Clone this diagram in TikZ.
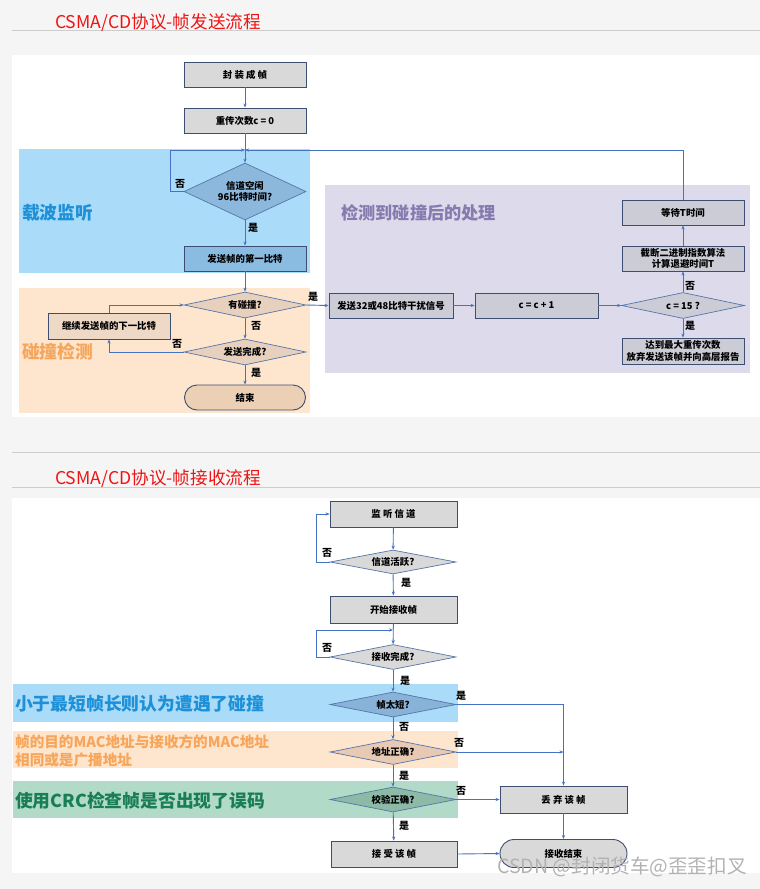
\documentclass[tikz,border=0pt]{standalone}
\usepackage{fontspec}
\setmainfont{Noto Sans CJK SC}
\usepackage{xcolor}
\usetikzlibrary{shapes.geometric, arrows.meta}

\definecolor{pagebg}{RGB}{245,245,245}
\definecolor{sepgray}{RGB}{205,205,205}
\definecolor{flowblue}{RGB}{68,114,196}
\definecolor{boxline}{RGB}{62,78,112}
\definecolor{boxgray}{RGB}{217,217,217}
\definecolor{diaedge}{RGB}{84,118,168}
\definecolor{bandblue}{RGB}{170,220,250}
\definecolor{firstblue}{RGB}{138,188,226}
\definecolor{idleblue}{RGB}{140,184,222}
\definecolor{bandorange}{RGB}{253,229,206}
\definecolor{collfill}{RGB}{231,209,190}
\definecolor{nextfill}{RGB}{238,216,198}
\definecolor{endfill}{RGB}{236,208,182}
\definecolor{bandpurple}{RGB}{221,219,235}
\definecolor{purplebox}{RGB}{204,204,214}
\definecolor{bandgreen}{RGB}{178,218,200}
\definecolor{crcfill}{RGB}{140,186,166}
\definecolor{shortfill}{RGB}{136,178,215}
\definecolor{addrfill}{RGB}{232,201,180}
\definecolor{txtblue}{RGB}{30,144,215}
\definecolor{txtorange}{RGB}{247,165,90}
\definecolor{txtpurple}{RGB}{135,122,175}
\definecolor{txtgreen}{RGB}{25,125,85}
\definecolor{titlered}{RGB}{238,20,20}
\definecolor{wmgray}{RGB}{178,178,178}

\newcommand{\boxfont}{\fontsize{9.4}{11.2}\selectfont\bfseries}
\newcommand{\bandfont}{\fontsize{17.8}{20}\selectfont\bfseries}

\tikzset{
  procbox/.style={draw=boxline, fill=boxgray, line width=0.9pt, minimum width=122pt,
    minimum height=25pt, inner sep=1pt, align=center, font=\boxfont},
  decide/.style={diamond, aspect=4, draw=diaedge, fill=boxgray, line width=0.7pt,
    minimum width=122pt, minimum height=26pt, inner sep=0pt, align=center, font=\boxfont},
  stopbox/.style={procbox, rounded corners=12.5pt},
  flow/.style={draw=flowblue, line width=0.9pt, -{Stealth[length=4pt,width=3.2pt]}},
  yn/.style={font=\fontsize{10}{12}\selectfont\bfseries, inner sep=0pt},
  bandtext/.style={anchor=west, font=\bandfont, inner sep=0pt, align=left},
  titletext/.style={anchor=west, text=titlered, font=\fontsize{17.6}{20}\selectfont, inner sep=0pt}
}

\begin{document}
\begin{tikzpicture}[x=1pt, y=-1pt]
% pixel grid: x to the right, y downwards, 1 unit = 1 px of the 760x889 sheet
\useasboundingbox (0,0) rectangle (760,889);
\fill[pagebg] (0,0) rectangle (760,889);

% --- Panels and rules ---
\fill[white] (12,55) rectangle (760,417);
\fill[white] (12,498) rectangle (760,873);
\draw[sepgray, line width=0.8pt] (12,30) -- (760,30);
\draw[sepgray, line width=0.8pt] (12,452) -- (760,452);
\draw[sepgray, line width=0.8pt] (12,487) -- (760,487);
\node[titletext] (ttlsend) at (55,23) {CSMA/CD协议-帧发送流程};
\node[titletext] (ttlrecv) at (55,479) {CSMA/CD协议-帧接收流程};

% --- Sending: background bands ---
\fill[bandblue] (19,149) rectangle (310,273);
\fill[bandorange] (19,288) rectangle (310,413);
\fill[bandpurple] (325,185) rectangle (750,373);
\node[bandtext, text=txtblue] (lblsense) at (22,213) {载波监听};
\node[bandtext, text=txtorange] (lbldetect) at (22,352) {碰撞检测};
\node[bandtext, text=txtpurple, font=\fontsize{17.2}{20}\selectfont\bfseries] (lblafter) at (341,213) {检测到碰撞后的处理};

% --- Sending: nodes ---
\node[procbox] (pack) at (245,74.5) {封\ 装\ 成\ 帧};
\node[procbox] (retry) at (245,120.5) {重传次数c = 0};
\coordinate (junc) at (245,150);
\node[decide, fill=idleblue, aspect=2, minimum height=57pt] (idle) at (245,191.5) {信道空闲\\96比特时间?};
\node[procbox, fill=firstblue] (first) at (245,258.5) {发送帧的第一比特};
\node[decide, fill=collfill] (coll) at (245,305) {有碰撞?};
\node[decide, fill=collfill] (done) at (245,352) {发送完成?};
\node[procbox, fill=nextfill, minimum height=26pt] (next) at (109,326) {继续发送帧的下一比特};
\node[stopbox, fill=endfill, minimum width=121pt] (end) at (245,397.5) {结束};
\node[procbox, fill=purplebox, minimum width=124pt] (jam) at (391,305.5) {发送32或48比特干扰信号};
\node[procbox, fill=purplebox, minimum width=123pt] (inc) at (536.5,305.5) {c = c + 1};
\node[decide, fill=purplebox, minimum width=123pt] (max) at (683,305.5) {c = 15 ?};
\node[procbox, fill=purplebox] (backoff) at (683,258.5) {截断二进制指数算法\\计算退避时间T};
\node[procbox, fill=purplebox] (wait) at (683,212.5) {等待T时间};
\node[procbox, fill=purplebox, minimum height=26pt] (giveup) at (683,351) {达到最大重传次数\\放弃发送该帧并向高层报告};

% --- Sending: connectors ---
\draw[flow] (pack) -- (retry);
\draw[flow] (retry) -- (idle);
\draw[flow] (idle.west) -- ++(-13,0) |- (junc);
\draw[flow] (wait.north) |- (junc);
\draw[flow] (idle) -- (first);
\draw[flow] (first) -- (coll);
\draw[flow] (coll.east) -- (jam.west);
\draw[flow] (coll) -- (done);
\draw[flow] (done.west) -| (next.south);
\draw[flow] (next.north) |- (coll.west);
\draw[flow] (done) -- (end);
\draw[flow] (jam) -- (inc);
\draw[flow] (inc) -- (max);
\draw[flow] (max) -- (backoff);
\draw[flow] (backoff) -- (wait);
\draw[flow] (max) -- (giveup);

\node[yn] (n1) at (180,184) {否};
\node[yn] (y1) at (253,228) {是};
\node[yn] (y2) at (313,297) {是};
\node[yn] (n2) at (256,326) {否};
\node[yn] (n3) at (177,344) {否};
\node[yn] (y3) at (256,373) {是};
\node[yn] (n4) at (690,286) {否};
\node[yn] (y4) at (690,326) {是};

% --- Receiving: background bands ---
\fill[bandblue] (13,684) rectangle (458,722);
\fill[bandorange] (13,731) rectangle (458,768);
\fill[bandgreen] (13,781) rectangle (458,818);
\node[bandtext, text=txtblue] (lblshort) at (15,704) {小于最短帧长则认为遭遇了碰撞};
\node[bandtext, text=txtorange, font=\fontsize{14.6}{18}\selectfont\bfseries] (lbladdr) at (15,751) {帧的目的MAC地址与接收方的MAC地址\\相同或是广播地址};
\node[bandtext, text=txtgreen] (lblcrc) at (15,801) {使用CRC检查帧是否出现了误码};

% --- Receiving: nodes ---
\node[procbox, minimum width=127pt, minimum height=26pt] (listen) at (393.5,514) {监\ 听\ 信\ 道};
\node[decide, minimum width=126pt, minimum height=24pt] (active) at (393,562) {信道活跃?};
\node[procbox, minimum width=127pt, minimum height=27pt] (start) at (393.5,609.5) {开始接收帧};
\coordinate (rjunc) at (393,630);
\node[decide, minimum width=126pt, minimum height=25pt] (recv) at (393,657) {接收完成?};
\node[decide, fill=shortfill, minimum width=126pt, minimum height=25pt] (short) at (393,704.5) {帧太短?};
\node[decide, fill=addrfill, minimum width=126pt, minimum height=25pt] (addr) at (393,752) {地址正确?};
\node[decide, fill=crcfill, minimum width=126pt, minimum height=25pt] (crc) at (393,799.5) {校验正确?};
\node[procbox, minimum width=127pt, minimum height=27pt] (drop) at (563.5,799.5) {丢\ 弃\ 该\ 帧};
\node[procbox, minimum width=126pt, minimum height=26pt] (accept) at (394,854) {接\ 受\ 该\ 帧};
\node[stopbox, minimum width=127pt, minimum height=28pt, rounded corners=14pt] (fin) at (563.5,853.5) {接收结束};
\coordinate (dropin) at (addr.east -| drop.north);

% --- Receiving: connectors ---
\draw[flow] (listen) -- (active);
\draw[flow] (active.west) -- ++(-13,0) |- (listen.west);
\draw[flow] (active) -- (start);
\draw[flow] (start) -- (recv);
\draw[flow] (recv.west) -- ++(-13,0) |- (rjunc);
\draw[flow] (recv) -- (short);
\draw[flow] (short.east) -| (drop.north);
\draw[flow] (short) -- (addr);
\draw[flow] (addr.east) -- (dropin);
\draw[flow] (addr) -- (crc);
\draw[flow] (crc.east) -- (drop.west);
\draw[flow] (crc) -- (accept);
\draw[flow] (accept.east) -- (fin.west);
\draw[flow] (drop) -- (fin);

\node[yn] (n5) at (327,553) {否};
\node[yn] (y5) at (406,583) {是};
\node[yn] (n6) at (327,648) {否};
\node[yn] (y6) at (405,681) {是};
\node[yn] (y7) at (461,696) {是};
\node[yn] (n7) at (404,727) {否};
\node[yn] (n8) at (459,743) {否};
\node[yn] (y8) at (404,776) {是};
\node[yn] (n9) at (461,791) {否};
\node[yn] (y9) at (404,826) {是};

% --- watermark ---
\node[anchor=west, text=wmgray, font=\fontsize{19.6}{22}\selectfont, inner sep=0pt] (mark) at (497,867) {CSDN @封闭货车@歪歪扣叉};
\end{tikzpicture}
\end{document}
